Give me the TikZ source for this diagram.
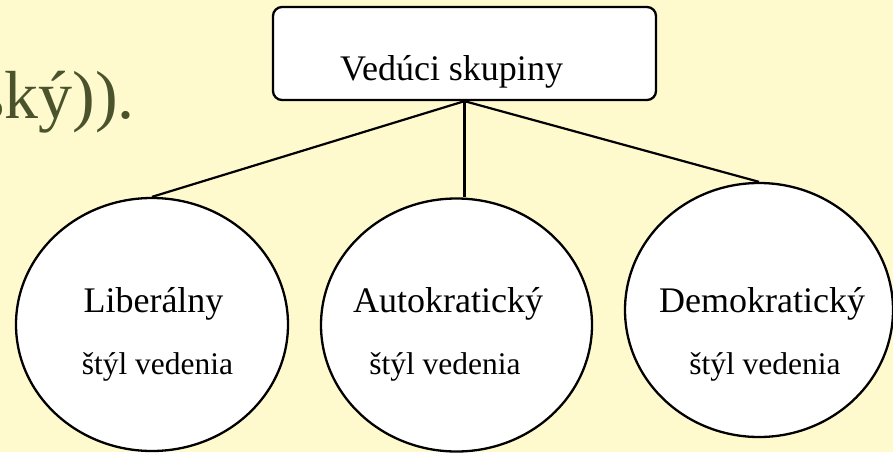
\documentclass[tikz,border=0pt]{standalone}
\usepackage{fontspec}
\setmainfont{Liberation Serif}
\usetikzlibrary{shapes.geometric}
\definecolor{slidebg}{RGB}{255,250,205}
\definecolor{olivetext}{RGB}{75,83,45}

\begin{document}
\begin{tikzpicture}[x=1pt,y=-1pt,
  headbox/.style={draw=black, line width=2.3pt, fill=white, rounded corners=9pt,
    minimum width=383pt, minimum height=93pt, inner sep=0pt},
  leaf/.style={draw=black, line width=2.3pt, fill=white, ellipse, inner sep=0pt},
  link/.style={draw=black, line width=2.2pt},
  bigtext/.style={font=\fontsize{36}{40}\selectfont, inner sep=0pt, anchor=base},
  smalltext/.style={font=\fontsize{31.5}{36}\selectfont, inner sep=0pt, anchor=base}]
% slide background
\fill[slidebg] (0,0) rectangle (893,452);
\useasboundingbox (0,0) rectangle (893,452);

% tail of the slide's body text
\node[font=\fontsize{68}{72}\selectfont, text=olivetext, inner sep=0pt, anchor=base east]
  (tail) at (135,118) {ský)).};

% heading box
\node[headbox] (head) at (464.5,53.5) {};
\node[bigtext] (headtxt) at (451.5,80) {Vedúci skupiny};

% three leadership styles
\node[leaf, minimum width=272pt, minimum height=253pt] (lib) at (152,324.5) {};
\node[leaf, minimum width=271pt, minimum height=253pt] (aut) at (456.5,325) {};
\node[leaf, minimum width=268pt, minimum height=254pt] (dem) at (759,310) {};

% connectors
\draw[link] (head.south) -- (lib.north);
\draw[link] (head.south) -- (head.south |- aut.north);
\draw[link] (head.south) -- (dem.north);

% labels
\node[bigtext] (libA) at (153.5,312) {Liberálny};
\node[smalltext] (libB) at (157.5,374) {štýl vedenia};
\node[bigtext] (autA) at (448,312) {Autokratický};
\node[smalltext] (autB) at (445,374) {štýl vedenia};
\node[bigtext] (demA) at (762,312) {Demokratický};
\node[smalltext] (demB) at (765,374) {štýl vedenia};
\end{tikzpicture}
\end{document}
